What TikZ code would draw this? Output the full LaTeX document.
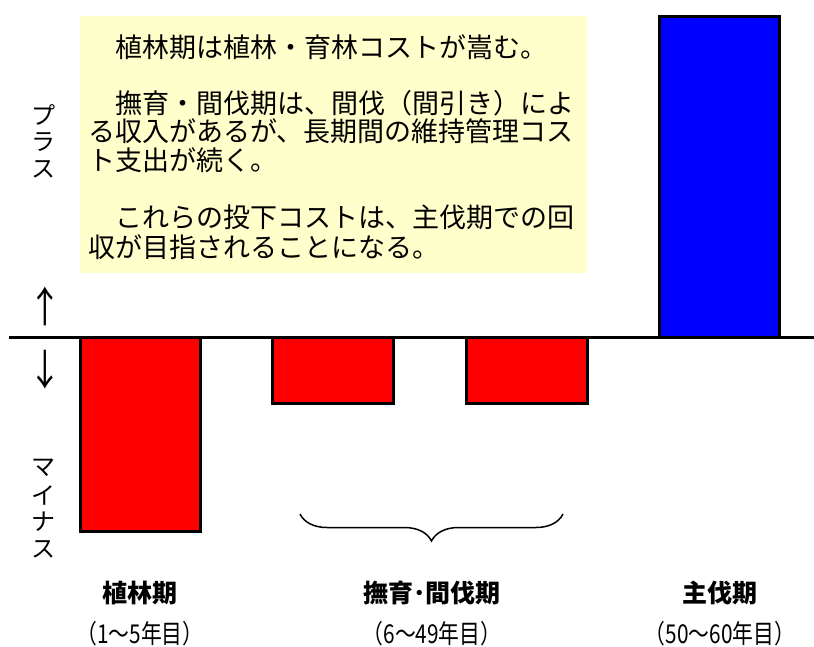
\documentclass[tikz,border=0pt]{standalone}
\usepackage{fontspec}
\newfontfamily\jpfont{Noto Sans CJK JP}
\usetikzlibrary{decorations.pathreplacing}
\definecolor{noteyellow}{HTML}{FFFFCC}
\newcommand{\narrowtext}[1]{\scalebox{0.8}[1]{#1}}
\tikzset{
  bar/.style={draw=black, line width=3pt},
  sidelabel/.style={inner sep=0, font=\jpfont\fontsize{24}{24}\selectfont},
  arrowlabel/.style={inner sep=0, font=\jpfont\fontsize{42}{42}\selectfont},
  notetext/.style={inner sep=0, anchor=base west, font=\jpfont\fontsize{27}{27}\selectfont},
  period/.style={inner sep=0, font=\jpfont\bfseries\fontsize{25}{25}\selectfont},
  years/.style={inner sep=0, font=\jpfont\fontsize{26}{26}\selectfont}
}
\begin{document}
\begin{tikzpicture}[x=1pt, y=-1pt]
\useasboundingbox (0,0) rectangle (814,646);

\fill[noteyellow] (80,16) rectangle (587,273);
\foreach \y/\t [count=\i] in {57/{　植林期は植林・育林コストが嵩む。},
  113/{　撫育・間伐期は、間伐（間引き）によ},
  141/{る収入があるが、長期間の維持管理コス},
  170/{ト支出が続く。},
  227/{　これらの投下コストは、主伐期での回},
  257/{収が目指されることになる。}}{
\node[notetext] (note\i) at (88,\y) {\t};
}

\foreach \c [count=\i] in {プ,ラ,ス}{
\node[sidelabel] (plus\i) at (43, {88 + 27*\i}) {\c};
}
\foreach \c [count=\i] in {マ,イ,ナ,ス}{
\node[sidelabel] (minus\i) at (43, {441 + 27*\i}) {\c};
}
\node[arrowlabel] (up) at (45,306) {\narrowtext{↑}};
\node[arrowlabel] (down) at (45,370) {\narrowtext{↓}};

\draw[line width=3pt] (9,337) -- (814,337);
\foreach \xa/\xb/\yb/\col in {80/200/531/red, 272/393/403/red, 466/587/403/red, 659/779/16/blue}{
\draw[bar, fill=\col] (\xa,337) rectangle (\xb,\yb);
}

\draw[decorate, decoration={brace, mirror, amplitude=27pt}, line width=1.5pt] (300,514) -- (563,514);

\node[period] (plant) at (140,593) {植林期};
\node[period] (thin) at (432,593) {撫育･間伐期};
\node[period] (harvest) at (720,593) {主伐期};
\node[years] (plantyr) at (140,634) {\narrowtext{（1～5年目）}};
\node[years] (thinyr) at (432,634) {\narrowtext{（6～49年目）}};
\node[years] (harvestyr) at (720,634) {\narrowtext{（50～60年目）}};
\end{tikzpicture}
\end{document}
